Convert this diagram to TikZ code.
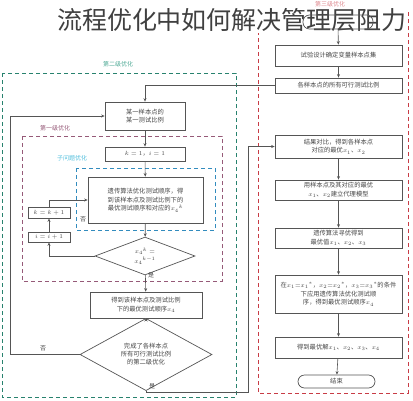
\documentclass[tikz,border=0pt]{standalone}
\usepackage{fontspec}
\setmainfont{Noto Sans CJK SC}
\usetikzlibrary{shapes.geometric,arrows.meta}
\definecolor{boxc}{RGB}{85,85,85}
\definecolor{txtc}{RGB}{70,70,70}
\definecolor{tealc}{RGB}{40,130,110}
\definecolor{teall}{RGB}{80,170,150}
\definecolor{purc}{RGB}{150,90,120}
\definecolor{cyanc}{RGB}{50,140,190}
\definecolor{cyanl}{RGB}{80,190,220}
\definecolor{redc}{RGB}{200,60,70}
\tikzset{
  box/.style={draw=boxc, line width=0.7pt, fill=white, align=center,
    font=\fontsize{6.3}{8.8}\selectfont, text=txtc, inner sep=1pt},
  dia/.style={box, shape=diamond, inner sep=0pt},
  term/.style={box, rounded corners=6.5pt},
  arr/.style={-{Stealth[length=3.5pt,width=3pt]}, draw=boxc, line width=0.6pt},
  grp/.style={dashed, dash pattern=on 4pt off 3pt, line width=0.9pt},
  lbl/.style={font=\fontsize{6}{7}\selectfont, inner sep=0.5pt},
  yn/.style={font=\fontsize{6}{7}\selectfont, text=txtc, inner sep=0.5pt}
}
\begin{document}
\begin{tikzpicture}[x=1pt,y=-1pt]
\useasboundingbox (0,0) rectangle (413,400);
% groups
\draw[grp, draw=redc] (258,10) rectangle (408,393);
\draw[grp, draw=tealc] (2,73) rectangle (236,397);
\draw[grp, draw=purc] (22,136) rectangle (222,281);
\draw[grp, draw=cyanc] (76,168) rectangle (215,230);
\node[lbl, text=redc!60] (lr) at (330,4) {第三级优化};
\node[lbl, text=teall] (lt) at (118,64) {第二级优化};
\node[lbl, text=purc] (lp) at (55,128) {第一级优化};
\node[lbl, text=cyanl] (lc) at (72,158) {子问题优化};
% title
\node[fill=white, inner sep=1pt, text=black!75, font=\fontsize{25}{25}\selectfont] (title) at (232,20) {流程优化中如何解决管理层阻力};
% right column
\node[term, fill=none, minimum width=70pt, minimum height=14pt] (start) at (338,22) {};
\node[box, minimum width=127pt, minimum height=21pt] (r1) at (338.5,55.5) {试验设计确定变量样本点集};
\node[box, minimum width=127pt, minimum height=15pt] (r2) at (338.5,85.5) {各样本点的所有可行测试比例};
\node[box, minimum width=127pt, minimum height=23pt] (r3) at (338.5,146.5) {结果对比，得到各样本点\\对应的最优$x_1$、$x_2$};
\node[box, minimum width=127pt, minimum height=20pt] (r4) at (338.5,190) {用样本点及其对应的最优\\$x_1$、$x_2$建立代理模型};
\node[box, minimum width=127pt, minimum height=20pt] (r5) at (338.5,238) {遗传算法寻优得到\\最优值$x_1$、$x_2$、$x_3$};
\node[box, minimum width=127pt, minimum height=38pt] (r6) at (338.5,294) {在$x_1{=}{x_1}^*$，$x_2{=}{x_2}^*$，$x_3{=}{x_3}^*$的条件\\下应用遗传算法优化测试顺\\序，得到最优测试顺序$x_4$};
\node[box, minimum width=127pt, minimum height=21pt] (r7) at (338.5,347.5) {得到最优解$x_1$、$x_2$、$x_3$、$x_4$};
\node[term, minimum width=77pt, minimum height=13pt] (end) at (336.5,381.5) {结束};
% left column
\node[box, minimum width=80pt, minimum height=28pt] (l1) at (145,116) {某一样本点的\\某一测试比例};
\node[box, minimum width=80pt, minimum height=14pt] (l2) at (145,154) {$k=1$，$i=1$};
\node[box, minimum width=115pt, minimum height=46pt] (l3) at (145.5,200) {遗传算法优化测试顺序，得\\到该样本点及测试比例下的\\最优测试顺序和对应的${x_4}^{k}$};
\node[box, minimum width=42pt, minimum height=11pt] (kb) at (49,212.5) {$k=k+1$};
\node[box, minimum width=42pt, minimum height=10pt] (ib) at (49,237) {$i=i+1$};
\node[dia, minimum width=100pt, minimum height=32pt, font=\fontsize{6}{9.5}\selectfont] (l4) at (145,256) {${x_4}^{k}=$\\${x_4}^{k-1}$};
\node[box, minimum width=112pt, minimum height=26pt] (l5) at (146,305) {得到该样本点及测试比例\\下的最优测试顺序$x_4$};
\node[dia, minimum width=132pt, minimum height=47pt, font=\fontsize{6.3}{8}\selectfont] (l6) at (146,354.5) {完成了各样本点\\所有可行测试比例\\的第二级优化};
% labels
\node[yn] (n1) at (83,219) {否};
\node[yn] (y1) at (151,275) {是};
\node[yn] (n2) at (43,348) {否};
\node[yn] (y2) at (152,386) {是};
% connectors right
\draw[arr] (start) -- (r1);
\draw[arr] (r1) -- (r2);
\draw[arr] (r3) -- (r4);
\draw[arr] (r4) -- (r5);
\draw[arr] (r5) -- (r6);
\draw[arr] (r6) -- (r7);
\draw[arr] (r7) -- (end);
% connectors left
\draw[arr] (r2.west) -| (l1.north);
\draw[arr] (l1) -- (l2);
\draw[arr] (l2) -- (l3);
\draw[arr] (l3) -- (l4);
\draw[arr] (l4) -- (l5);
\draw[arr] (l5) -- (l6);
\draw[arr] (l4.west) -| (ib.south);
\draw[arr] (ib) -- (kb);
\draw[arr] (kb.north) |- (l3.west);
\coordinate (fb) at (10,354.5);
\draw[arr] (l6.west) -- (fb) |- (l1.west);
\coordinate (c1) at (146,392);
\coordinate (c2) at (248,392);
\draw[arr] (l6.south) -- (c1) -- (c2) |- (r3.west);
\end{tikzpicture}
\end{document}
